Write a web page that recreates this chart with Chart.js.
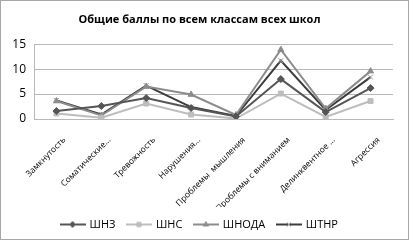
<!DOCTYPE html>
<html>
<head>
<meta charset="utf-8">
<script src="https://cdn.jsdelivr.net/npm/chart.js@4.4.1/dist/chart.umd.min.js"></script>
<style>
  html, body { margin: 0; padding: 0; background: #fff; }
  #wrap { width: 409px; height: 240px; position: relative; }
</style>
</head>
<body>
<div id="wrap"><canvas id="c" width="409" height="240"></canvas></div>
<script>
const categories = ["Замкнутость", "Соматические...", "Тревожность", "Нарушения...", "Проблемы  мышления", "Проблемы с вниманием", "Делинквентное ...", "Агрессия"];
const seriesNames = ["ШНЗ", "ШНС", "ШНОДА", "ШТНР"];
const shnz  = [1.6, 2.6, 4.2, 2.2, 0.5, 8.0, 1.4, 6.2];
const shns  = [1.1, 0.25, 3.1, 0.9, 0.1, 5.1, 0.4, 3.6];
const shnoda = [3.6, 0.7, 6.5, 4.9, 0.8, 13.9, 2.1, 9.6];
const shtnr = [3.7, 0.9, 6.7, 2.4, 0.6, 11.7, 1.8, 8.4];
const yTicks = [0, 5, 10, 15];

const colors = ["#555555", "#bdbdbd", "#8c8c8c", "#3c3c3c"];
const markerColors = ["#555555", "#bdbdbd", "#8c8c8c", "#9a9a9a"];
const styles = ["rectRot", "rect", "triangle", "crossRot"];

function legendIcon(i) {
  const cv = document.createElement('canvas');
  cv.width = 26; cv.height = 10;
  const ctx = cv.getContext('2d');
  ctx.strokeStyle = colors[i];
  ctx.lineWidth = 2;
  ctx.beginPath(); ctx.moveTo(0, 5); ctx.lineTo(26, 5); ctx.stroke();
  ctx.fillStyle = markerColors[i];
  ctx.strokeStyle = markerColors[i];
  ctx.lineWidth = 1;
  Chart.helpers.drawPoint(ctx, {pointStyle: styles[i], radius: 3, borderWidth: 1, rotation: 0}, 13, 5);
  return cv;
}

const borderPlugin = {
  id: 'outerBorder',
  beforeDraw(chart) {
    const ctx = chart.ctx;
    ctx.save();
    ctx.fillStyle = '#fff';
    ctx.fillRect(0, 0, chart.width, chart.height);
    ctx.restore();
  },
  afterDraw(chart) {
    const ctx = chart.ctx;
    ctx.save();
    ctx.strokeStyle = '#a6a6a6';
    ctx.lineWidth = 1;
    ctx.strokeRect(0.5, 0.5, chart.width - 1, chart.height - 1);
    ctx.restore();
  }
};

const allData = [shnz, shns, shnoda, shtnr];
const datasets = allData.map((d, i) => ({
  label: seriesNames[i],
  data: d,
  borderColor: colors[i],
  backgroundColor: markerColors[i],
  pointBorderColor: markerColors[i],
  pointBackgroundColor: markerColors[i],
  pointStyle: styles[i],
  pointRadius: 3.5,
  pointBorderWidth: 1,
  borderWidth: 2,
  tension: 0,
  fill: false
}));

new Chart(document.getElementById('c'), {
  type: 'line',
  data: { labels: categories, datasets },
  options: {
    responsive: false,
    animation: false,
    devicePixelRatio: 1,
    layout: { padding: { left: 6, right: 16, top: 10, bottom: 0 } },
    plugins: {
      title: {
        display: true,
        text: 'Общие баллы по всем классам всех школ',
        color: '#000',
        font: { family: 'Open Sans', size: 11, weight: 'bold' },
        padding: { top: 3, bottom: 18 }
      },
      legend: {
        position: 'bottom',
        labels: {
          color: '#000',
          font: { family: 'Open Sans', size: 11 },
          usePointStyle: true,
          pointStyleWidth: 23,
          padding: 12,
          generateLabels(chart) {
            return chart.data.datasets.map((ds, i) => ({
              text: ds.label,
              pointStyle: legendIcon(i),
              fillStyle: colors[i],
              strokeStyle: colors[i],
              lineWidth: 0,
              hidden: false,
              datasetIndex: i,
              fontColor: '#000'
            }));
          }
        }
      },
      tooltip: { enabled: false }
    },
    scales: {
      x: {
        offset: true,
        grid: { display: false },
        border: { display: true, color: '#b8b8b8', width: 1 },
        afterFit(scale) { scale.height = 88; },
        ticks: {
          autoSkip: false,
          maxRotation: 45,
          minRotation: 45,
          color: '#000',
          padding: 8,
          labelOffset: 8,
          font: { family: 'Open Sans', size: 8.5 }
        }
      },
      y: {
        min: 0,
        max: 15,
        afterBuildTicks(scale) { scale.ticks = yTicks.map(v => ({ value: v })); },
        afterFit(scale) { scale.width = 28; },
        grid: { color: '#b8b8b8', drawTicks: false },
        border: { display: true, color: '#b8b8b8' },
        ticks: {
          color: '#000',
          padding: 8,
          font: { family: 'Open Sans', size: 12 }
        }
      }
    }
  },
  plugins: [borderPlugin]
});
</script>
</body>
</html>
